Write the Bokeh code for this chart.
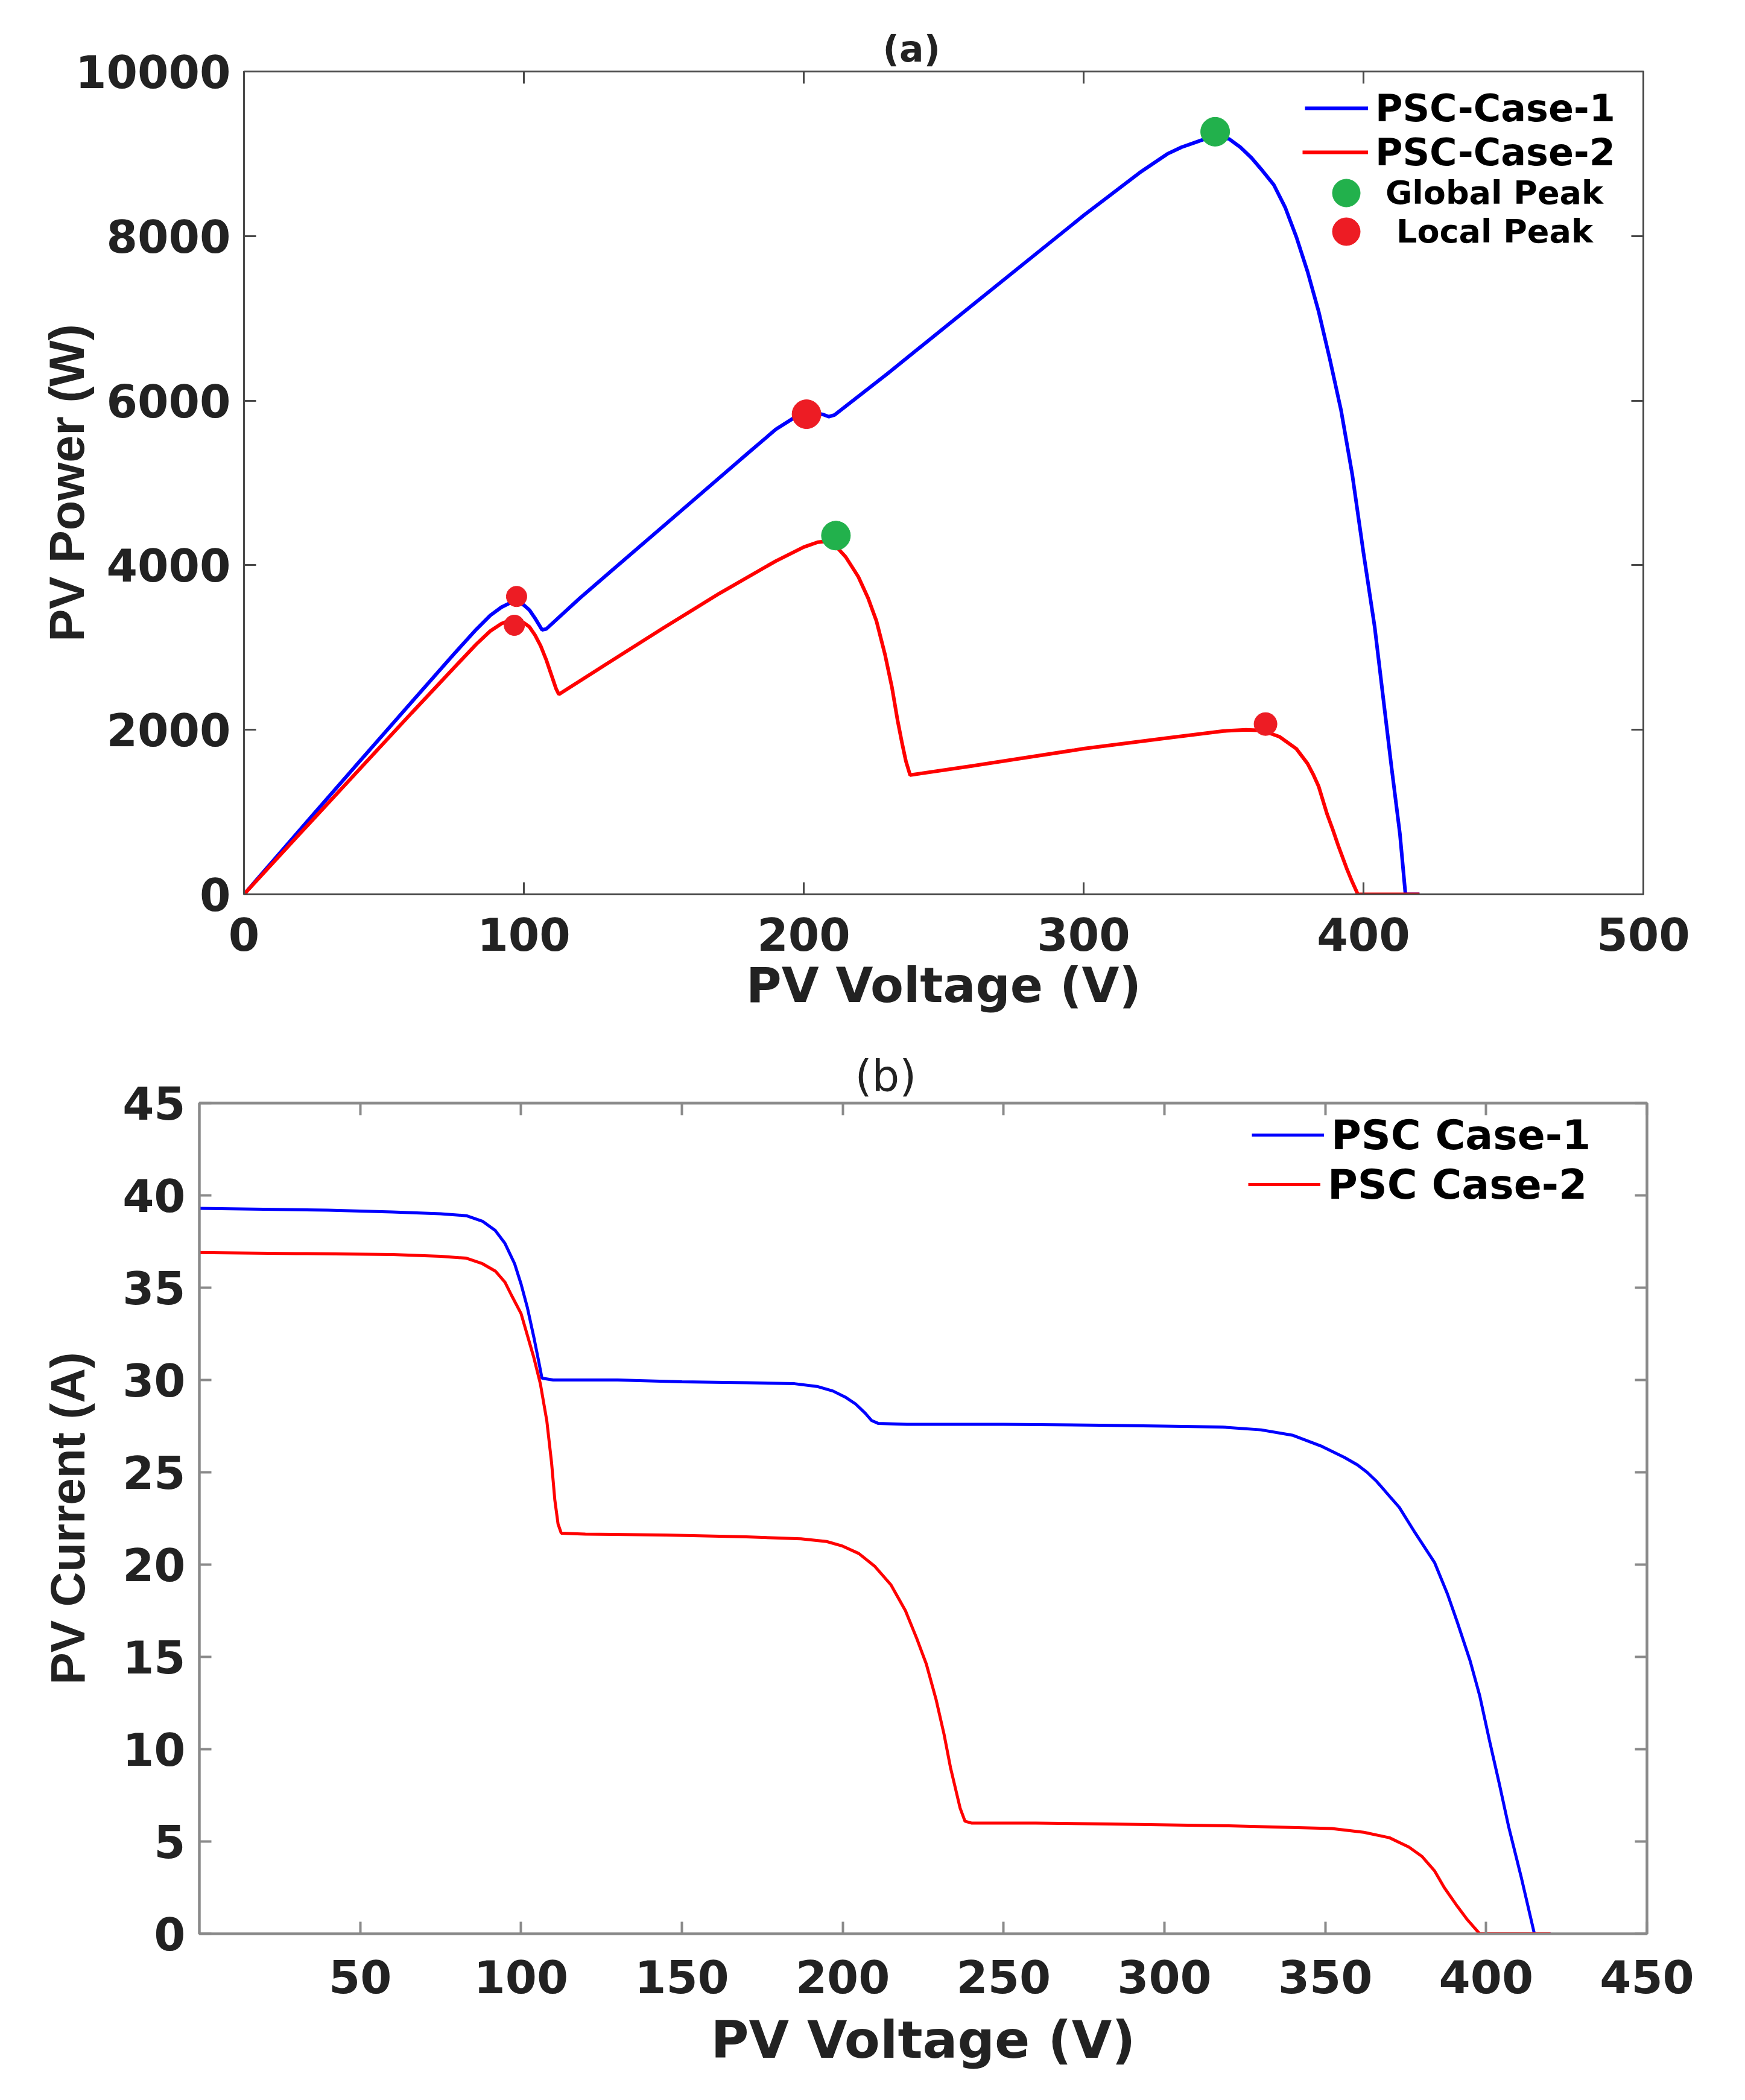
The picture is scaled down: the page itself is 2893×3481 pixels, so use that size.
from bokeh.plotting import figure
from bokeh.models import (LinearAxis, FixedTicker, Legend, LegendItem, ColumnDataSource,
                          Range1d, Title)
from bokeh.layouts import column
from bokeh.embed import file_html
from bokeh.resources import INLINE

# ---------------- data: (a) P-V curves ----------------
pv_v_case1 = [0, 20, 40, 60, 75, 83, 88, 92, 95, 97.5, 100, 102, 104, 106.5, 108, 120, 150, 180,
              190, 196, 200, 204, 207, 209, 211, 230, 250, 300, 320, 330, 335, 340, 345, 348,
              352, 356, 360, 364, 368, 372, 376, 380, 384, 388, 392, 396, 400, 404, 407, 410,
              413, 415, 420]
pv_p_case1 = [0, 785, 1565, 2340, 2920, 3220, 3390, 3490, 3540, 3550, 3515, 3455, 3355, 3215,
              3225, 3600, 4480, 5360, 5650, 5780, 5830, 5850, 5830, 5805, 5825, 6330, 6880,
              8250, 8770, 9000, 9080, 9140, 9200, 9210, 9180, 9080, 8950, 8790, 8620, 8350,
              7990, 7570, 7080, 6500, 5880, 5100, 4150, 3250, 2400, 1550, 740, 0, 0]

pv_v_case2 = [0, 20, 40, 60, 75, 83, 88, 92, 95, 97, 100, 102, 104, 106, 108, 110, 111.5, 112.5,
              130, 150, 170, 190, 200, 205, 208, 211, 215, 219.5, 223, 226, 229, 231.5, 233.5,
              235, 236.5, 238, 260, 300, 330, 350, 358, 362, 366, 370, 376, 380, 382, 384, 387,
              389, 391, 394, 396, 398, 420]
pv_p_case2 = [0, 738, 1474, 2208, 2752, 3040, 3200, 3290, 3330, 3330, 3300, 3250, 3150, 3020,
              2850, 2650, 2500, 2430, 2810, 3240, 3660, 4050, 4220, 4280, 4290, 4250, 4100,
              3860, 3600, 3320, 2920, 2520, 2120, 1860, 1620, 1450, 1560, 1770, 1900, 1985,
              2000, 1995, 1965, 1915, 1770, 1590, 1460, 1310, 975, 790, 590, 315, 150, 0, 0]

global_peak_v = [347, 211.5]
global_peak_p = [9268, 4360]
local_peak_v = [201, 97.4, 96.6, 365]
local_peak_p = [5835, 3620, 3270, 2070]

# ---------------- data: (b) I-V curves ----------------
iv_v_case1 = [0, 20, 40, 60, 75, 83, 88, 92, 95, 98, 100, 102, 104, 105.5, 106.5, 110, 130, 150,
              170, 185, 192, 197, 201, 204, 207, 209, 211, 220, 250, 280, 300, 318, 330, 340,
              349, 356, 360, 363, 366, 370, 373, 378, 384, 388, 391, 395, 398, 401, 404, 407,
              411, 415, 420]
iv_i_case1 = [39.3, 39.25, 39.2, 39.1, 39.0, 38.9, 38.6, 38.1, 37.4, 36.3, 35.2, 33.9, 32.3,
              31.0, 30.1, 30.0, 30.0, 29.9, 29.85, 29.8, 29.65, 29.4, 29.05, 28.7, 28.2, 27.8,
              27.65, 27.6, 27.6, 27.55, 27.5, 27.45, 27.3, 27.0, 26.4, 25.8, 25.4, 25.0, 24.5,
              23.7, 23.1, 21.7, 20.1, 18.4, 16.9, 14.8, 12.9, 10.5, 8.2, 5.8, 3.0, 0, 0]

iv_v_case2 = [0, 30, 60, 75, 83, 88, 92, 95, 97, 100, 102, 104, 106, 108, 109.5, 110.5, 111.5,
              112.5, 120, 145, 170, 187, 195, 200, 205, 210, 215, 219.5, 223, 226, 229, 231.5,
              233.5, 235, 236.5, 238, 240, 260, 283, 320, 352, 362, 370, 376, 380, 384, 387,
              391, 394, 398, 420]
iv_i_case2 = [36.9, 36.85, 36.8, 36.7, 36.6, 36.3, 35.9, 35.3, 34.6, 33.6, 32.4, 31.2, 29.8,
              27.8, 25.5, 23.5, 22.2, 21.7, 21.65, 21.6, 21.5, 21.4, 21.25, 21.0, 20.6, 19.9,
              18.9, 17.5, 16.0, 14.6, 12.7, 10.8, 9.0, 7.9, 6.8, 6.1, 6.0, 6.0, 5.95, 5.85,
              5.7, 5.5, 5.2, 4.7, 4.2, 3.4, 2.5, 1.5, 0.8, 0, 0]

xticks_a = [0, 100, 200, 300, 400, 500]
yticks_a = [0, 2000, 4000, 6000, 8000, 10000]
xticks_b = [50, 100, 150, 200, 250, 300, 350, 400, 450]
yticks_b = [0, 5, 10, 15, 20, 25, 30, 35, 40, 45]

BLUE = "#0000ff"
RED = "#ff0000"
GREEN = "#22b14c"
DOT_RED = "#ed1c24"
TXT = "#222222"
FONT = "DejaVu Sans"
LFONT = "Liberation Sans"


def style_axis(ax, color, lw, size):
    ax.major_tick_in = 20
    ax.major_tick_out = 0
    ax.minor_tick_line_color = None
    ax.major_tick_line_color = color
    ax.major_tick_line_width = lw
    ax.axis_line_color = color
    ax.axis_line_width = lw
    ax.major_label_text_font = FONT
    ax.major_label_text_font_style = "bold"
    ax.major_label_text_font_size = size
    ax.major_label_text_color = TXT


def add_box_axes(p, xt, yt, color, lw):
    top = LinearAxis(ticker=FixedTicker(ticks=xt))
    right = LinearAxis(ticker=FixedTicker(ticks=yt))
    for ax in (top, right):
        style_axis(ax, color, lw, "0px")
        ax.major_label_standoff = 0
        ax.major_label_text_alpha = 0
    p.add_layout(top, "above")
    p.add_layout(right, "right")


def one_legend(p, label, renderer, loc, gw, gh, standoff, size):
    lg = Legend(items=[LegendItem(label=label, renderers=[renderer])],
                location=loc, glyph_width=gw, glyph_height=gh, label_standoff=standoff,
                spacing=0, padding=0, margin=0, border_line_color=None,
                background_fill_alpha=0, label_text_font=FONT, label_text_font_size=size,
                label_text_font_style="bold", label_text_color="#000000")
    p.add_layout(lg)


# ================= figure (a) =================
p1 = figure(width=2870, height=1692, output_backend="svg", toolbar_location=None,
            x_range=Range1d(0, 500), y_range=Range1d(0, 10000),
            min_border_left=404, min_border_right=146, min_border_top=118,
            min_border_bottom=210)
p1.frame_align = False
p1.grid.visible = False
AX1 = "#4a4a4a"
p1.outline_line_color = AX1
p1.outline_line_width = 3

p1.xaxis.ticker = FixedTicker(ticks=xticks_a)
p1.yaxis.ticker = FixedTicker(ticks=yticks_a)
for ax in p1.xaxis + p1.yaxis:
    style_axis(ax, AX1, 3, "74px")
p1.xaxis.major_label_standoff = 38
p1.yaxis.major_label_standoff = 22
p1.xaxis.axis_label = "PV Voltage (V)"
p1.xaxis.axis_label_text_font = FONT
p1.xaxis.axis_label_text_font_size = "80px"
p1.xaxis.axis_label_text_font_style = "bold"
p1.xaxis.axis_label_text_color = TXT
p1.xaxis.axis_label_standoff = 8
p1.yaxis.axis_label = "PV Power (W)"
p1.yaxis.axis_label_text_font = LFONT
p1.yaxis.axis_label_text_font_size = "81px"
p1.yaxis.axis_label_text_font_style = "bold"
p1.yaxis.axis_label_text_color = TXT
p1.yaxis.axis_label_standoff = -34
add_box_axes(p1, xticks_a, yticks_a, AX1, 3)

p1.title = Title(text="(a)", align="left", offset=1059, text_font=FONT,
                 text_font_size="60px", text_font_style="bold", text_color=TXT, standoff=6)

r1 = p1.line(pv_v_case1, pv_p_case1, line_color=BLUE, line_width=6)
r2 = p1.line(pv_v_case2, pv_p_case2, line_color=RED, line_width=6)

gsrc = ColumnDataSource(dict(v=global_peak_v, p=global_peak_p, s=[48, 48]))
lsrc = ColumnDataSource(dict(v=local_peak_v, p=local_peak_p, s=[48, 34, 34, 38]))
rg = p1.scatter("v", "p", source=gsrc, size="s", marker="circle",
                fill_color=GREEN, line_color=GREEN)
rl = p1.scatter("v", "p", source=lsrc, size="s", marker="circle",
                fill_color=DOT_RED, line_color=DOT_RED)

one_legend(p1, "PSC-Case-1", r1, (1759, 1258), 105, 90, 12, "62px")
one_legend(p1, "PSC-Case-2", r2, (1755, 1185), 109, 90, 12, "62px")
one_legend(p1, "Global Peak", rg, (1770, 1105), 115, 115, 8, "54px")
one_legend(p1, "Local Peak", rl, (1770, 1041), 115, 115, 26, "54px")

# ================= figure (b) =================
p2 = figure(width=2870, height=1773, output_backend="svg", toolbar_location=None,
            x_range=Range1d(0, 450), y_range=Range1d(0, 45),
            min_border_left=330, min_border_right=140, min_border_top=136,
            min_border_bottom=260)
p2.frame_align = False
p2.grid.visible = False
AX2 = "#8a8a8a"
p2.outline_line_color = AX2
p2.outline_line_width = 4

p2.xaxis.ticker = FixedTicker(ticks=xticks_b)
p2.yaxis.ticker = FixedTicker(ticks=yticks_b)
for ax in p2.xaxis + p2.yaxis:
    style_axis(ax, AX2, 4, "75px")
p2.xaxis.major_label_standoff = 43
p2.yaxis.major_label_standoff = 23
p2.xaxis.axis_label = "PV Voltage (V)"
p2.xaxis.axis_label_text_font = FONT
p2.xaxis.axis_label_text_font_size = "86px"
p2.xaxis.axis_label_text_font_style = "bold"
p2.xaxis.axis_label_text_color = TXT
p2.xaxis.axis_label_standoff = 24
p2.yaxis.axis_label = "PV Current (A)"
p2.yaxis.axis_label_text_font = LFONT
p2.yaxis.axis_label_text_font_size = "80px"
p2.yaxis.axis_label_text_font_style = "bold"
p2.yaxis.axis_label_text_color = TXT
p2.yaxis.axis_label_standoff = 43
add_box_axes(p2, xticks_b, yticks_b, AX2, 4)

p2.title = Title(text="(b)", align="left", offset=1087, text_font=FONT,
                 text_font_size="72px", text_font_style="normal", text_color=TXT, standoff=8)

q1 = p2.line(iv_v_case1, iv_i_case1, line_color=BLUE, line_width=5)
q2 = p2.line(iv_v_case2, iv_i_case2, line_color=RED, line_width=5)

one_legend(p2, "PSC Case-1", q1, (1745, 1274), 120, 100, 12, "68px")
one_legend(p2, "PSC Case-2", q2, (1739, 1192), 120, 100, 12, "68px")

layout = column(p1, p2)
open("out.html", "w").write(file_html(layout, INLINE))
